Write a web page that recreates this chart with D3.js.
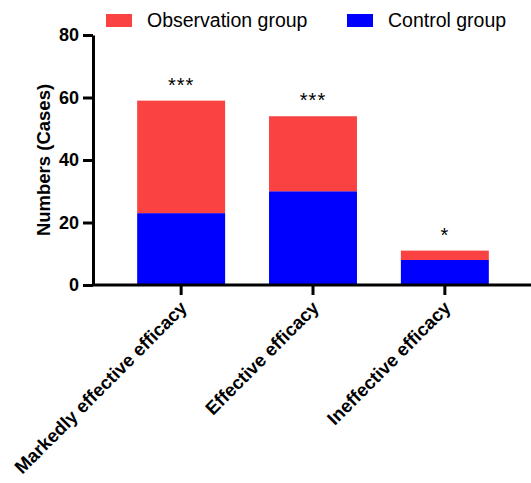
<!DOCTYPE html>
<html>
<head>
<meta charset="utf-8">
<script src="https://cdn.jsdelivr.net/npm/d3@7"></script>
<style>
  body { margin: 0; background: #fff; }
  text { font-family: "Liberation Sans", Arial, sans-serif; }
</style>
</head>
<body>
<div id="chart"></div>
<script>
var categories = ["Markedly effective efficacy", "Effective efficacy", "Ineffective efficacy"];
var controlValues = [23, 30, 8];
var observationValues = [36, 24, 3];
var significance = ["***", "***", "*"];
var yTicks = [0, 20, 40, 60, 80];
var seriesNames = ["Observation group", "Control group"];

var config = {
  width: 531,
  height: 483,
  margin: { left: 93, top: 35, right: 0, bottom: 198 },
  colors: { observation: "#fa4242", control: "#0000ff" }
};

var svg = d3.select("#chart").append("svg")
    .attr("width", config.width)
    .attr("height", config.height);

var chartWidth = config.width - config.margin.left - config.margin.right;
var chartHeight = config.height - config.margin.top - config.margin.bottom;

var chart = svg.append("g")
    .attr("transform", "translate(" + config.margin.left + "," + config.margin.top + ")");

var x = d3.scaleBand()
    .domain(categories)
    .range([0, 440])
    .paddingInner(0.333)
    .paddingOuter(0.335);

var y = d3.scaleLinear()
    .domain([0, 80])
    .range([chartHeight, 0]);

var rows = categories.map(function(c, i) {
  return { cat: c, control: controlValues[i], observation: observationValues[i], sig: significance[i] };
});

var stack = d3.stack().keys(["control", "observation"])(rows);

chart.selectAll("g.layer").data(stack).enter()
  .append("g")
    .attr("class", "layer")
    .attr("fill", function(d) { return config.colors[d.key]; })
  .selectAll("rect").data(function(d) { return d; }).enter()
  .append("rect")
    .attr("x", function(d) { return x(d.data.cat); })
    .attr("width", x.bandwidth())
    .attr("y", function(d) { return y(d[1]); })
    .attr("height", function(d) { return y(d[0]) - y(d[1]); });

// significance stars
chart.selectAll("text.sig").data(rows).enter()
  .append("text")
    .attr("class", "sig")
    .attr("x", function(d) { return x(d.cat) + x.bandwidth() / 2; })
    .attr("y", function(d) { return y(d.control + d.observation) - 9; })
    .attr("text-anchor", "middle")
    .attr("font-size", "20px")
    .attr("letter-spacing", "1px")
    .text(function(d) { return d.sig; });

// y axis
var yAxis = chart.append("g")
    .call(d3.axisLeft(y).tickValues(yTicks).tickSize(10).tickSizeOuter(0).tickPadding(4));
yAxis.select(".domain").attr("stroke-width", 3);
yAxis.selectAll(".tick line").attr("stroke-width", 3);
yAxis.selectAll(".tick text")
    .attr("font-size", "18px")
    .attr("font-weight", "bold")
    .attr("fill", "#000");

// x axis
var xAxis = chart.append("g")
    .attr("transform", "translate(0," + chartHeight + ")")
    .call(d3.axisBottom(x).tickSize(10).tickSizeOuter(0).tickFormat(""));
xAxis.select(".domain").attr("stroke-width", 3).attr("d", "M0,0H" + chartWidth);
xAxis.selectAll(".tick line").attr("stroke-width", 3);

xAxis.selectAll(".tick").append("text")
    .attr("transform", "translate(7,24) rotate(-45)")
    .attr("text-anchor", "end")
    .attr("font-size", "18.5px")
    .attr("font-weight", "bold")
    .attr("fill", "#000")
    .text(function(d) { return d; });

// y title
svg.append("text")
    .attr("transform", "translate(50," + (config.margin.top + chartHeight / 2) + ") rotate(-90)")
    .attr("text-anchor", "middle")
    .attr("font-size", "18.5px")
    .attr("font-weight", "bold")
    .text("Numbers (Cases)");

// legend
var legendX = [106, 347];
var legend = svg.selectAll("g.legend").data(seriesNames).enter()
  .append("g")
    .attr("class", "legend")
    .attr("transform", function(d, i) { return "translate(" + legendX[i] + ",14)"; });
legend.append("rect")
    .attr("width", 26)
    .attr("height", 13)
    .attr("fill", function(d, i) { return i === 0 ? config.colors.observation : config.colors.control; });
legend.append("text")
    .attr("x", 41)
    .attr("y", 13)
    .attr("font-size", "19.5px")
    .text(function(d) { return d; });
</script>
</body>
</html>
